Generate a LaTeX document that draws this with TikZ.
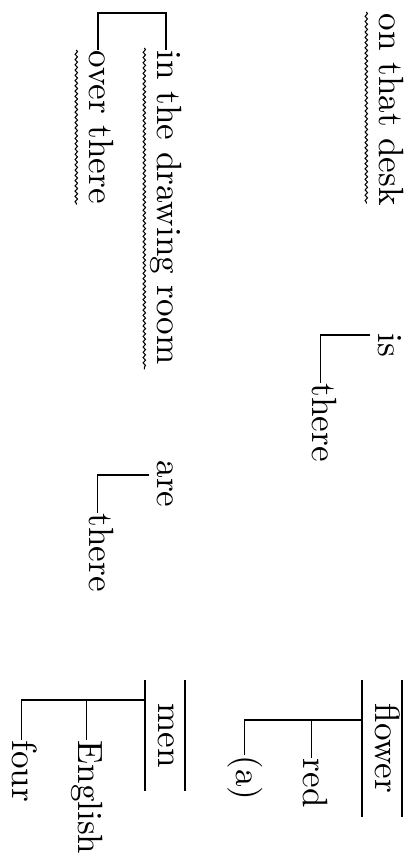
\documentclass[tikz,border=0pt]{standalone}
\usepackage{tikz}
\usetikzlibrary{decorations.pathmorphing}

\begin{document}
\begin{tikzpicture}[x=0.285pt, y=-0.285pt]
  \tikzstyle{word} = [rotate=-90, anchor=base west, inner sep=0pt, text height=1.15ex, text depth=0pt]
  \tikzstyle{head} = [rotate=-90, anchor=base west, inner xsep=6.5pt, inner ysep=2pt, text height=5.5pt, text depth=1.5pt]
  \tikzstyle{wavy} = [decorate, decoration={snake, segment length=1.5pt, amplitude=0.35pt}, line width=0.3pt]
  \useasboundingbox (0,0) rectangle (408,854);

  % first sentence
  \node [head] (flower) at (375,680) {flower};
  \node [word] (red) at (303,758) {red};
  \node [word] (art) at (236,755) {(a)};
  \node [word] (is) at (378,333) {is};
  \node [word] (there1) at (312,383) {there};
  \node [word] (desk) at (379,13) {on that desk};

  % second sentence
  \node [head] (men) at (158,680) {men};
  \node [word] (english) at (78,740) {English};
  \node [word] (four) at (13,740) {four};
  \node [word] (are) at (157,460) {are};
  \node [word] (there2) at (89,513) {there};
  \node [word] (room) at (157,50) {in the drawing room};
  \node [word] (over) at (89,50) {over there};

  % boxes round the heads
  \draw (flower.north west) -- (flower.north east) (flower.south west) -- (flower.south east);
  \draw (men.north west) -- (men.north east) (men.south west) -- (men.south east);

  % modifiers
  \draw ([shift={(0,40)}]flower.south west) -| (red.west);
  \draw ([shift={(0,40)}]flower.south west) -| (art.west);
  \draw ([shift={(0,20)}]men.south west) -| (english.west);
  \draw ([shift={(0,20)}]men.south west) -| (four.west);
  \draw ([shift={(-7,2)}]is.south west) -| (there1.west);
  \draw ([shift={(-7,15)}]are.south west) -| (there2.west);

  % bracket for the two places
  \coordinate (top) at (0,13);
  \draw [line width=0.6pt] (room.west) -- (room.west |- top) -- (over.west |- top) -- (over.west);

  % wavy underlines
  \draw [wavy] ([shift={(-12,-1)}]desk.south west) -- ([shift={(-12,-3)}]desk.south east);
  \draw [wavy] ([shift={(-12,-2)}]room.south west) -- ([shift={(-12,4)}]room.south east);
  \draw [wavy] ([shift={(-12,0)}]over.south west) -- ([shift={(-12,0)}]over.south east);
\end{tikzpicture}
\end{document}
